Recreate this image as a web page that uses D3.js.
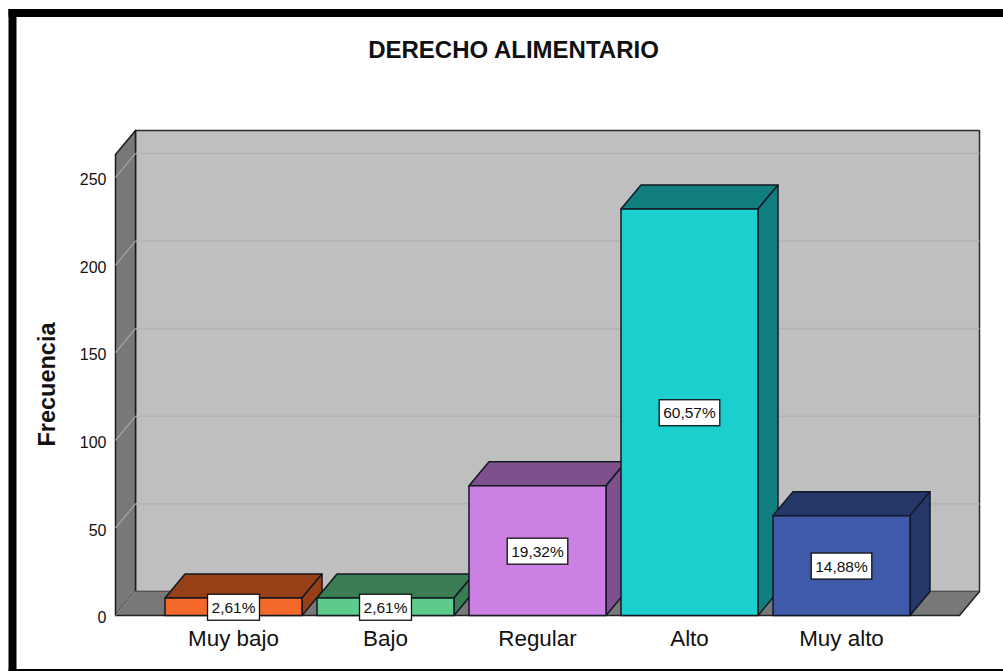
<!DOCTYPE html>
<html><head><meta charset="utf-8">
<script src="https://cdn.jsdelivr.net/npm/d3@7"></script>
<style>html,body{margin:0;padding:0;background:#fff}svg{display:block}text{font-family:"Liberation Sans",Arial,sans-serif;fill:#111}</style>
</head><body><div id="chart"></div>
<script>
const categories = ["Muy bajo","Bajo","Regular","Alto","Muy alto"];
const frequencies = [10,10,74,232,57];
const percentLabels = ["2,61%","2,61%","19,32%","60,57%","14,88%"];
const yTicks = [0,50,100,150,200,250];
const frontColors = ["#F4692B","#5CCB8B","#CC80E3","#1BCFCF","#3F5AA8"];
const sideColors = ["#974018","#3A7D55","#7F508E","#117F7F","#253769"];
const titleText = "DERECHO ALIMENTARIO";
const yTitle = "Frecuencia";

const W=1003,H=671, dx=20, dy=-24;
const plotLeft=115.5, plotRight=959.5, base=615.5, plotTop=154.5;
const svg=d3.select("#chart").append("svg").attr("width",W).attr("height",H);
const x=d3.scaleBand().domain(categories).range([165,910]).paddingInner(15/152);
const y=d3.scaleLinear().domain([0,263.1]).range([base,plotTop]);
const line=d3.line();
const poly=(pts,fill,stroke,sw)=>svg.append("path").attr("d",line(pts)+"Z").attr("fill",fill).attr("stroke",stroke||"none").attr("stroke-width",sw||0).attr("stroke-linejoin","round");

// frame
svg.append("rect").attr("x",8.5).attr("y",9).attr("width",W).attr("height",8).attr("fill","#000");
svg.append("rect").attr("x",8.5).attr("y",9).attr("width",8).attr("height",H).attr("fill","#000");
svg.append("rect").attr("x",8.5).attr("y",669).attr("width",W).attr("height",3).attr("fill","#000");

// back wall
poly([[plotLeft+dx,plotTop+dy],[plotRight+dx,plotTop+dy],[plotRight+dx,base+dy],[plotLeft+dx,base+dy]],"#BFBFBF","#2a2a2a",1.5);
// side wall
poly([[plotLeft,plotTop],[plotLeft+dx,plotTop+dy],[plotLeft+dx,base+dy],[plotLeft,base]],"#787878","#1a1a1a",1.5);
// floor
poly([[plotLeft,base],[plotLeft+dx,base+dy],[plotRight+dx,base+dy],[plotRight,base]],"#787878","none");
svg.append("path").attr("d",line([[plotLeft,base],[plotRight,base],[plotRight+dx,base+dy]])).attr("fill","none").attr("stroke","#222").attr("stroke-width",1.5);

// gridlines
yTicks.filter(d=>d>0).forEach(d=>{
  svg.append("line").attr("x1",plotLeft+dx).attr("x2",plotRight+dx).attr("y1",y(d)+dy).attr("y2",y(d)+dy).attr("stroke","#B3B3B3").attr("stroke-width",1.6);
  svg.append("line").attr("x1",plotLeft).attr("x2",plotLeft+dx).attr("y1",y(d)).attr("y2",y(d)+dy).attr("stroke","#A8A8A8").attr("stroke-width",1.2);
});
svg.append("line").attr("x1",plotLeft).attr("x2",plotLeft+dx).attr("y1",base).attr("y2",base+dy).attr("stroke","#A0A0A0").attr("stroke-width",1);

// bars
categories.forEach((c,i)=>{
  const x0=x(c),x1=x0+x.bandwidth(),yt=y(frequencies[i]);
  const s="#101820";
  poly([[x0,yt],[x0+dx,yt+dy],[x1+dx,yt+dy],[x1,yt]],sideColors[i],s,1.5);
  poly([[x1,yt],[x1+dx,yt+dy],[x1+dx,base+dy],[x1,base]],sideColors[i],s,1.5);
  poly([[x0,yt],[x1,yt],[x1,base],[x0,base]],frontColors[i],s,1.5);
});

// value labels
categories.forEach((c,i)=>{
  const cx=x(c)+x.bandwidth()/2, cy=(y(frequencies[i])+base)/2+0.5;
  const t=svg.append("text").attr("x",cx).attr("y",cy).attr("text-anchor","middle").attr("dominant-baseline","central").attr("font-size",15.5).text(percentLabels[i]);
  const w=t.node().getComputedTextLength()+8;
  svg.append("rect").attr("x",cx-w/2).attr("y",cy-13).attr("width",w).attr("height",26).attr("fill","#fff").attr("stroke","#111").attr("stroke-width",1.3);
  t.raise();
});

// axes
const ay=svg.append("g").attr("transform",`translate(${plotLeft},0)`).call(d3.axisLeft(y).tickValues(yTicks).tickSize(0).tickPadding(9));
ay.select(".domain").remove();
ay.selectAll("text").attr("font-size",16).attr("dy","0.45em").style("font-family",'"Liberation Sans",Arial,sans-serif');
const ax=svg.append("g").attr("transform",`translate(0,${base})`).call(d3.axisBottom(x).tickSize(0).tickPadding(15));
ax.select(".domain").remove();
ax.selectAll("text").attr("font-size",22.4).style("font-family",'"Liberation Sans",Arial,sans-serif');

svg.append("text").attr("x",513.5).attr("y",58).attr("text-anchor","middle").attr("font-size",24).attr("font-weight","bold").text(titleText);
svg.append("text").attr("transform","translate(55,384.5) rotate(-90)").attr("text-anchor","middle").attr("font-size",23.5).attr("font-weight","bold").text(yTitle);
</script></body></html>
